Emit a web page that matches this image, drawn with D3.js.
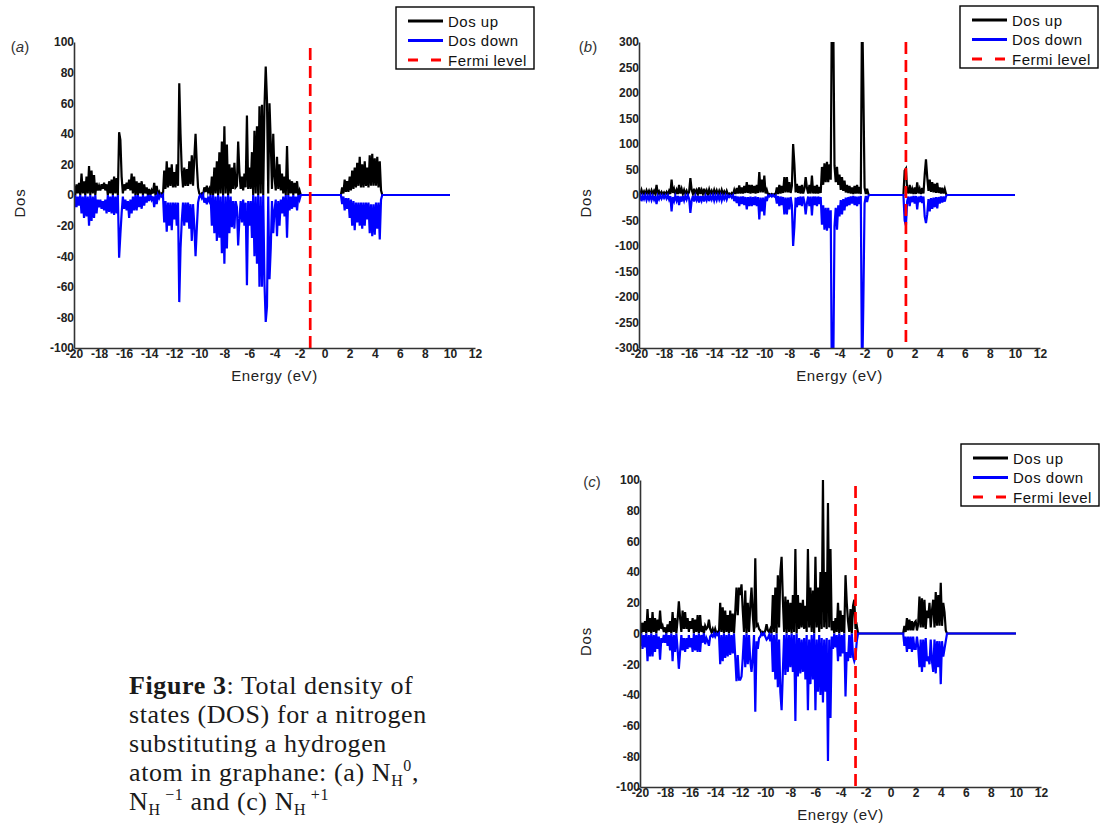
<!DOCTYPE html>
<html>
<head>
<meta charset="utf-8">
<script src="https://cdn.jsdelivr.net/npm/d3@7"></script>
<style>
  body { margin: 0; background: #fff; }
  svg { display: block; }
</style>
</head>
<body>
<svg id="fig" width="1103" height="825"></svg>
<script>
/*************************** Data ***************************/
// energy grid of the DOS traces: first point, step, last point of the flat tail
var energyStart = -20, energyStep = 0.1, energyEnd = 10;
var xTickValues = [-20,-18,-16,-14,-12,-10,-8,-6,-4,-2,0,2,4,6,8,10,12];
var yTicksSmall = [-100,-80,-60,-40,-20,0,20,40,60,80,100];
var yTicksLarge = [-300,-250,-200,-150,-100,-50,0,50,100,150,200,250,300];
var legendLabels = ["Dos up", "Dos down", "Fermi level"];
var panelTags = ["a", "b", "c"];
var fermiLevels = [-1.15, 1.3, -2.8];

// panel (a) N_H^0, one row per eV starting at -20
var dosUpA = [
  6,0,7,1,8,0,14,1,9,0,
  12,1,19,0,16,1,13,0,8,3,
  6,3,7,4,8,3,7,0,9,1,
  10,0,12,1,11,0,41,36,12,1,
  7,3,8,4,10,3,14,1,12,0,
  9,0,8,1,9,0,7,1,5,0,
  4,0,3,1,8,0,6,0,2,0,
  1,0,16,4,22,5,18,6,20,5,
  15,5,20,6,73,40,16,5,18,6,
  17,6,22,7,26,6,24,40,20,5,
  1,0,1,0,5,2,6,2,4,0,
  12,0,18,1,22,0,28,1,35,0,
  45,1,33,0,20,1,18,4,21,5,
  6,35,15,4,12,3,14,5,52,4,
  18,4,28,0,42,1,45,0,58,1,
  59,0,58,84,62,1,60,35,4,40,
  12,3,25,4,20,3,14,1,12,0,
  32,0,10,1,9,0,8,1,9,0,
  3,0,0,0,0,0,0,0,0,0,
  0,0,0,0,0,0,0,0,0,0,
  0,0,0,0,0,0,0,0,0,0,
  0,0,0,0,5,1,10,2,9,2,
  12,3,16,4,18,5,21,6,25,5,
  20,5,22,6,18,5,26,6,27,6,
  24,6,25,5,22,3,0];
var dosDownA = [
  -9,0,-8,-1,-7,0,-12,-1,-15,0,
  -14,-1,-20,0,-17,-1,-15,0,-12,-3,
  -8,-3,-9,-4,-10,-3,-12,0,-11,-1,
  -12,0,-13,-1,-12,0,-41,-26,-12,-1,
  -9,-3,-10,-4,-15,-3,-12,-1,-10,0,
  -10,0,-8,-1,-9,0,-7,-1,-5,0,
  -4,0,-3,-1,-8,0,-6,0,-2,0,
  -1,0,-18,-4,-24,-5,-20,-5,-23,-5,
  -16,-5,-20,-5,-70,-35,-17,-5,-20,-5,
  -18,-5,-22,-6,-30,-6,-20,-40,-22,-5,
  -1,0,-2,0,-5,-2,-6,-2,-4,0,
  -20,0,-25,-1,-30,0,-28,-1,-38,0,
  -45,-1,-35,0,-25,-1,-21,-4,-22,-4,
  -8,-33,-16,-4,-18,-3,-20,-5,-59,-4,
  -20,-4,-28,0,-40,-1,-45,0,-60,-1,
  -60,0,-58,-83,-73,-1,-55,-35,-4,-25,
  -10,-3,-27,-4,-20,-3,-12,-1,-14,0,
  -28,0,-10,-1,-9,0,-8,-1,-10,0,
  -3,0,0,0,0,0,0,0,0,0,
  0,0,0,0,0,0,0,0,0,0,
  0,0,0,0,0,0,0,0,0,0,
  0,0,0,0,-6,-1,-10,-2,-9,-2,
  -15,-3,-20,-4,-23,-5,-18,-5,-20,-5,
  -22,-5,-20,-5,-16,-5,-25,-6,-27,-6,
  -26,-5,-22,-5,-29,-3,0];

// panel (b) N_H^-1
var dosUpB = [
  5,1,10,2,7,1,9,2,8,1,
  9,2,8,2,20,2,7,1,6,1,
  5,1,6,1,8,2,30,4,12,2,
  10,2,20,3,12,2,10,2,8,1,
  6,33,10,2,12,2,9,2,15,2,
  10,2,12,2,9,1,11,2,8,1,
  10,2,9,1,8,1,10,2,7,1,
  8,1,3,1,4,1,10,2,14,3,
  19,3,15,3,18,4,25,4,20,3,
  20,4,18,3,20,4,45,5,30,5,
  38,3,10,1,2,0,2,0,2,1,
  15,2,20,3,18,4,35,5,35,5,
  25,4,18,100,60,5,22,4,18,3,
  20,3,12,35,14,3,20,3,38,3,
  18,3,20,3,16,4,55,20,62,25,
  65,25,60,30,410,350,58,25,55,20,
  40,10,35,8,28,5,20,4,18,3,
  15,2,18,3,20,3,16,2,380,215,
  15,2,12,2,0,0,0,0,0,0,
  0,0,0,0,0,0,0,0,0,0,
  0,0,0,0,0,0,0,0,0,0,
  0,0,48,52,10,3,20,3,12,2,
  15,2,25,3,12,2,14,3,40,70,
  35,8,30,6,25,5,22,4,24,4,
  15,3,14,3,12,2,0];
var dosDownB = [
  -6,-1,-12,-2,-8,-1,-10,-2,-9,-1,
  -10,-2,-9,-2,-18,-2,-8,-1,-7,-1,
  -6,-1,-7,-1,-9,-2,-32,-4,-12,-2,
  -11,-2,-20,-3,-13,-2,-11,-2,-9,-1,
  -7,-35,-11,-2,-13,-2,-10,-2,-15,-2,
  -11,-2,-13,-2,-10,-1,-12,-2,-9,-1,
  -11,-2,-10,-1,-9,-1,-11,-2,-8,-1,
  -9,-1,-4,-1,-5,-1,-12,-2,-16,-3,
  -22,-3,-18,-3,-20,-4,-28,-4,-22,-3,
  -22,-4,-20,-3,-22,-4,-48,-5,-32,-5,
  -40,-3,-12,-1,-3,0,-3,0,-3,-1,
  -17,-2,-22,-3,-20,-4,-38,-5,-38,-5,
  -28,-4,-20,-100,-62,-5,-24,-4,-20,-3,
  -22,-3,-14,-38,-16,-3,-22,-3,-40,-3,
  -20,-3,-22,-3,-18,-4,-58,-20,-68,-25,
  -70,-25,-65,-30,-410,-350,-62,-25,-68,-20,
  -42,-10,-38,-8,-30,-5,-22,-4,-20,-3,
  -17,-2,-20,-3,-22,-3,-18,-2,-380,-215,
  -17,-2,-14,-2,0,0,0,0,0,0,
  0,0,0,0,0,0,0,0,0,0,
  0,0,0,0,0,0,0,0,0,0,
  0,0,-50,-60,-12,-3,-22,-3,-14,-2,
  -17,-2,-28,-3,-14,-2,-16,-3,-42,-55,
  -38,-8,-32,-6,-27,-5,-24,-4,-26,-4,
  -17,-3,-15,-3,-13,-2,0];

// panel (c) N_H^+1
var dosUpC = [
  8,0,7,1,8,0,16,1,10,0,
  14,1,10,0,9,2,15,3,5,1,
  4,0,6,1,8,0,14,1,10,0,
  9,21,10,1,15,3,14,3,10,1,
  8,3,10,0,9,1,12,0,12,1,
  5,0,5,3,4,9,3,1,3,0,
  3,0,1,0,20,1,17,0,15,1,
  12,0,15,1,13,0,14,30,12,30,
  25,32,15,1,28,0,20,1,18,30,
  12,1,49,5,6,3,2,0,1,0,
  2,6,2,1,3,0,25,1,30,0,
  38,4,40,50,22,1,24,0,22,1,
  20,0,25,1,55,0,25,3,20,4,
  22,3,18,1,55,4,30,1,28,0,
  50,4,30,1,40,3,100,4,40,3,
  85,4,55,2,8,0,10,1,20,0,
  15,1,12,0,38,20,8,1,16,0,
  18,22,3,5,0,0,0,0,0,0,
  0,0,0,0,0,0,0,0,0,0,
  0,0,0,0,0,0,0,0,0,0,
  0,0,0,0,0,0,0,0,0,0,
  0,5,1,10,2,9,2,8,2,7,
  8,2,6,24,4,23,4,22,3,15,
  10,20,4,15,22,4,27,5,25,5,
  33,5,20,14,2,0,0];
var dosDownC = [
  -8,0,-10,-1,-9,0,-18,-1,-15,0,
  -15,-1,-12,0,-10,-2,-17,-3,-6,-1,
  -6,0,-8,-1,-11,0,-18,-1,-12,0,
  -10,-23,-12,-1,-11,-3,-12,-3,-10,-1,
  -9,-3,-12,0,-11,-1,-12,0,-12,-1,
  -6,0,-7,-3,-5,-8,-2,-1,-2,0,
  -2,0,-1,0,-20,-1,-18,0,-16,-1,
  -15,0,-14,-1,-13,0,-15,-31,-14,-30,
  -30,-28,-16,-1,-22,0,-20,-1,-18,-25,
  -15,-1,-51,-5,-10,-3,-2,0,-1,0,
  -2,-4,-3,-1,-5,0,-25,-1,-30,0,
  -35,-4,-38,-50,-25,-1,-27,0,-25,-1,
  -22,0,-25,-1,-57,0,-28,-3,-26,-4,
  -25,-3,-30,-1,-50,-4,-33,-1,-30,0,
  -50,-4,-38,-1,-40,-3,-45,-4,-38,-3,
  -83,-4,-55,-2,-10,0,-9,-1,-18,0,
  -15,-1,-13,0,-41,-12,-18,-1,-16,0,
  -15,-18,-15,-5,0,0,0,0,0,0,
  0,0,0,0,0,0,0,0,0,0,
  0,0,0,0,0,0,0,0,0,0,
  0,0,0,0,0,0,0,0,0,0,
  0,-8,-2,-12,-2,-10,-2,-12,-2,-10,
  -10,-2,-9,-22,-4,-25,-4,-22,-3,-18,
  -15,-20,-4,-18,-25,-4,-26,-5,-22,-5,
  -33,-5,-15,-10,-5,0,0];

/*************************** Layout ***************************/
var svg = d3.select("#fig");
svg.append("rect").attr("width", 1103).attr("height", 825).attr("fill", "#fff");

var sansFont = "'Liberation Sans', Arial, sans-serif";

var panels = [
  {tag: panelTags[0], up: dosUpA, down: dosDownA, fermi: fermiLevels[0], yDomain: [-100, 100], yTicks: yTicksSmall,
   left: 74, right: 475, top: 42, bottom: 348, fermiTop: 48, legendX: 396, legendY: 7, tagX: 20, tagY: 52, dosX: 20},
  {tag: panelTags[1], up: dosUpB, down: dosDownB, fermi: fermiLevels[1], yDomain: [-300, 300], yTicks: yTicksLarge,
   left: 639, right: 1040, top: 42, bottom: 348, fermiTop: 42, legendX: 960, legendY: 6, tagX: 588, tagY: 52, dosX: 586},
  {tag: panelTags[2], up: dosUpC, down: dosDownC, fermi: fermiLevels[2], yDomain: [-100, 100], yTicks: yTicksSmall,
   left: 640, right: 1041, top: 480, bottom: 787, fermiTop: 486, legendX: 961, legendY: 444, tagX: 592, tagY: 487, dosX: 586}
];

function toPoints(vals)
{
  var pts = vals.map(function(v, i){ return [energyStart + i * energyStep, v]; });
  pts.push([energyEnd, 0]);
  return pts;
}

function drawPanel(p)
{
  var g = svg.append("g").attr("class", "panel-" + p.tag);
  var x = d3.scaleLinear().domain([-20, 12]).range([p.left, p.right]);
  var y = d3.scaleLinear().domain(p.yDomain).range([p.bottom, p.top]);

  var clipId = "clip-" + p.tag;
  svg.append("clipPath").attr("id", clipId)
     .append("rect")
     .attr("x", p.left).attr("y", p.top)
     .attr("width", p.right - p.left).attr("height", p.bottom - p.top);

  var line = d3.line().x(function(d){ return x(d[0]); }).y(function(d){ return y(d[1]); });

  g.append("path").datum(toPoints(p.up))
   .attr("d", line).attr("fill", "none")
   .attr("stroke", "#000").attr("stroke-width", 2.2)
   .attr("clip-path", "url(#" + clipId + ")");
  g.append("path").datum(toPoints(p.down))
   .attr("d", line).attr("fill", "none")
   .attr("stroke", "#0000ff").attr("stroke-width", 2.2)
   .attr("clip-path", "url(#" + clipId + ")");

  // Fermi level
  g.append("line")
   .attr("x1", x(p.fermi)).attr("x2", x(p.fermi))
   .attr("y1", p.fermiTop).attr("y2", p.bottom)
   .attr("stroke", "#ff0000").attr("stroke-width", 2.7)
   .attr("stroke-dasharray", "12,6");

  // axes, no tick marks in the original
  var xAxis = d3.axisBottom(x).tickValues(xTickValues).tickSize(0).tickSizeOuter(0).tickPadding(1)
               .tickFormat(function(d){ return String(d); });
  var yAxis = d3.axisLeft(y).tickValues(p.yTicks).tickSize(0).tickSizeOuter(0).tickPadding(0)
               .tickFormat(function(d){ return String(d); });

  var gx = g.append("g").attr("transform", "translate(0," + p.bottom + ")").call(xAxis);
  var gy = g.append("g").attr("transform", "translate(" + p.left + ",0)").call(yAxis);
  [gx, gy].forEach(function(a){
    a.select(".domain").attr("stroke", "#333").attr("stroke-width", 1.6);
    a.selectAll("text")
     .attr("font-family", sansFont)
     .attr("font-size", 12).attr("font-weight", "bold")
     .attr("fill", "#222");
  });

  // axis titles
  g.append("text")
   .attr("x", (p.left + p.right) / 2).attr("y", p.bottom + 33)
   .attr("text-anchor", "middle")
   .attr("font-family", sansFont).attr("font-size", 15).attr("letter-spacing", 0.6)
   .attr("fill", "#222").text("Energy (eV)");
  g.append("text")
   .attr("transform", "translate(" + (p.dosX + 5) + "," + ((p.top + p.bottom) / 2 + 8) + ") rotate(-90)")
   .attr("text-anchor", "middle")
   .attr("font-family", sansFont).attr("font-size", 15).attr("letter-spacing", 0.8)
   .attr("fill", "#222").text("Dos");

  // panel tag
  var tag = g.append("text")
   .attr("x", p.tagX).attr("y", p.tagY)
   .attr("text-anchor", "middle")
   .attr("font-family", sansFont).attr("font-size", 15)
   .attr("fill", "#333");
  tag.append("tspan").text("(");
  tag.append("tspan").attr("font-style", "italic").text(p.tag);
  tag.append("tspan").text(")");

  // legend
  var lg = g.append("g").attr("transform", "translate(" + p.legendX + "," + p.legendY + ")");
  lg.append("rect").attr("width", 138).attr("height", 62)
    .attr("fill", "#fff").attr("stroke", "#000").attr("stroke-width", 1.4);
  var legendStyles = [
    {color: "#000", dash: null},
    {color: "#0000ff", dash: null},
    {color: "#ff0000", dash: "10,13"}
  ];
  legendLabels.forEach(function(lbl, i){
    var yy = 14 + i * 19.5;
    lg.append("line").attr("x1", 12).attr("x2", 47).attr("y1", yy).attr("y2", yy)
      .attr("stroke", legendStyles[i].color).attr("stroke-width", 3)
      .attr("stroke-dasharray", legendStyles[i].dash);
    lg.append("text").attr("x", 52).attr("y", yy + 5.5)
      .attr("font-family", sansFont).attr("font-size", 15).attr("letter-spacing", 0.5)
      .attr("fill", "#111").text(lbl);
  });
}

panels.forEach(drawPanel);

/*************************** Caption ***************************/
var cap = svg.append("g")
  .attr("font-family", "'Liberation Serif', 'Times New Roman', serif")
  .attr("font-size", 26).attr("letter-spacing", 0.6).attr("fill", "#1a1a1a");
var capX = 129;

var l1 = cap.append("text").attr("x", capX).attr("y", 694);
l1.append("tspan").attr("font-weight", "bold").text("Figure 3");
l1.append("tspan").text(": Total density of");

cap.append("text").attr("x", capX).attr("y", 723).text("states (DOS)  for a nitrogen");
cap.append("text").attr("x", capX).attr("y", 752).text("substituting a hydrogen");

var l4 = cap.append("text").attr("x", capX).attr("y", 781);
l4.append("tspan").text("atom in graphane: (a) N");
l4.append("tspan").attr("font-size", 16).attr("dy", 5).text("H");
l4.append("tspan").attr("font-size", 16).attr("dy", -15).text("0");
l4.append("tspan").attr("dy", 10).text(",");

var l5 = cap.append("text").attr("x", capX).attr("y", 810);
l5.append("tspan").text("N");
l5.append("tspan").attr("font-size", 16).attr("dy", 5).text("H");
l5.append("tspan").attr("font-size", 16).attr("dy", -15).text(" \u22121");
l5.append("tspan").attr("dy", 10).text(" and (c) N");
l5.append("tspan").attr("font-size", 16).attr("dy", 5).text("H");
l5.append("tspan").attr("font-size", 16).attr("dy", -15).text(" +1");
</script>
</body>
</html>
